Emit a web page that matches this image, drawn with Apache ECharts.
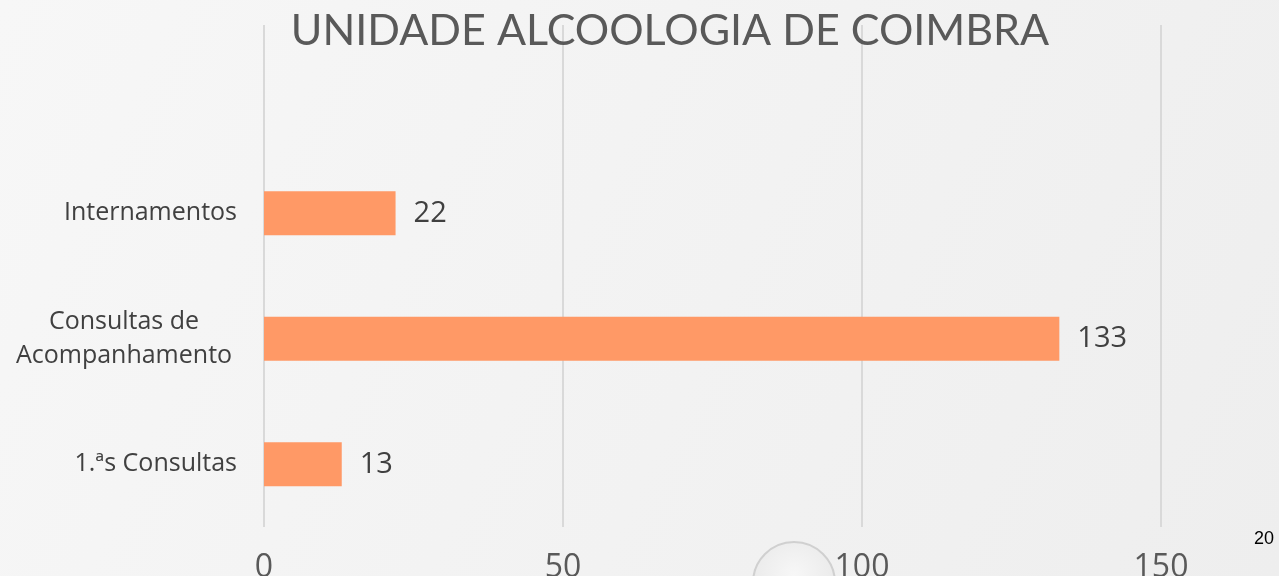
<!DOCTYPE html>
<html>
<head>
<meta charset="utf-8">
<script src="https://cdn.jsdelivr.net/npm/echarts@6/dist/echarts.min.js"></script>
<style>
  html, body { margin: 0; padding: 0; }
  #chart { width: 1279px; height: 576px; }
</style>
</head>
<body>
<div id="chart"></div>
<script>
// categories bottom to top; last one is an empty slot in the plot area
var categories = ["1.ªs Consultas", "Consultas de\nAcompanhamento", "Internamentos", ""];
var values = [13, 133, 22, null];
var xTicks = [0, 50, 100, 150];

var chart = echarts.init(document.getElementById("chart"));
var option = {
  backgroundColor: {
    type: "linear", x: 0, y: 0, x2: 1, y2: 1,
    colorStops: [
      { offset: 0, color: "#f7f7f7" },
      { offset: 1, color: "#eeeeee" }
    ]
  },
  title: {
    text: "UNIDADE ALCOOLOGIA DE COIMBRA",
    left: 665,
    top: 5,
    textAlign: "center",
    textStyle: {
      color: "#595959",
      fontFamily: "Lato",
      fontWeight: "normal",
      fontSize: 43
    }
  },
  grid: { left: 264, right: 118, top: 25, bottom: 49, containLabel: false, outerBoundsMode: "none" },
  xAxis: {
    type: "value",
    min: xTicks[0],
    max: xTicks[xTicks.length - 1],
    interval: 50,
    axisLine: { show: false },
    axisTick: { show: false },
    axisLabel: {
      color: "#595959",
      fontFamily: "Open Sans",
      fontSize: 32,
      margin: 25
    },
    splitLine: { lineStyle: { color: "#d9d9d9", width: 2 } }
  },
  yAxis: {
    type: "category",
    data: categories,
    axisLine: { show: false },
    axisTick: { show: false },
    axisLabel: {
      color: "#404040",
      fontFamily: "Open Sans",
      fontSize: 25,
      margin: 27,
      lineHeight: 34,
      formatter: function (v) {
        if (v.indexOf("\n") < 0) return v;
        return v.split("\n").map(function (s) { return "{c|" + s + "}"; }).join("\n");
      },
      rich: {
        c: { width: 226, align: "center", fontSize: 25, lineHeight: 34, color: "#404040", fontFamily: "Open Sans" }
      }
    }
  },
  series: [{
    type: "bar",
    data: values,
    barWidth: 44,
    itemStyle: { color: "#ff9966" },
    label: {
      show: true,
      position: "right",
      distance: 18,
      color: "#404040",
      fontFamily: "Open Sans",
      fontSize: 29
    }
  }],
  graphic: [
    {
      type: "circle",
      shape: { cx: 794, cy: 583, r: 41 },
      style: {
        fill: {
          type: "radial", x: 0.5, y: 0.4, r: 0.6,
          colorStops: [
            { offset: 0, color: "#f7f7f7" },
            { offset: 0.75, color: "#ececec" },
            { offset: 1, color: "#cfcfcf" }
          ]
        },
        stroke: "#d0d0d0",
        lineWidth: 2
      },
      z: 0
    },
    {
      type: "text",
      left: 1254,
      top: 530,
      style: { text: "20", fill: "#000000", font: "18px 'Liberation Sans'" }
    }
  ]
};
chart.setOption(option);
</script>
</body>
</html>
